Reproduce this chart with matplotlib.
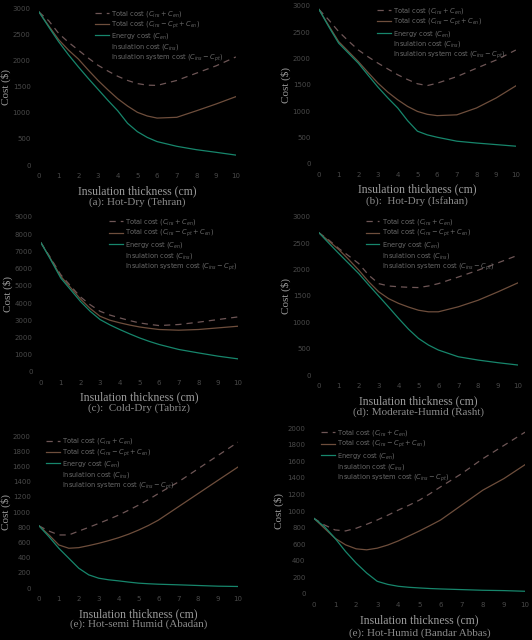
import numpy as np
import matplotlib.pyplot as plt
from matplotlib.lines import Line2D

# insulation thickness (cm)
thick = [0, 0.5, 1, 1.5, 2, 2.5, 3, 3.5, 4, 4.5, 5, 5.5, 6, 7, 8, 9, 10]

# (a) Tehran
a_total = [2930, 2760, 2520, 2350, 2200, 2050, 1910, 1800, 1700, 1620, 1560, 1530, 1525, 1620, 1760, 1900, 2070]
a_total_pt = [2930, 2660, 2400, 2200, 2030, 1820, 1620, 1440, 1270, 1130, 1010, 940, 900, 915, 1040, 1170, 1310]
a_energy = [2930, 2640, 2360, 2110, 1880, 1660, 1450, 1240, 1040, 800, 640, 530, 450, 360, 295, 245, 192]

# (b) Isfahan
b_total = [2930, 2730, 2510, 2330, 2160, 2030, 1910, 1800, 1690, 1600, 1520, 1485, 1530, 1655, 1815, 1970, 2160]
b_total_pt = [2930, 2620, 2320, 2130, 1940, 1730, 1530, 1360, 1215, 1090, 995, 940, 915, 930, 1060, 1250, 1480]
b_energy = [2930, 2600, 2290, 2100, 1910, 1680, 1455, 1250, 1060, 820, 620, 550, 505, 430, 395, 365, 335]

# (c) Tabriz
c_total = [7500, 6600, 5650, 5000, 4360, 3900, 3520, 3300, 3135, 2980, 2845, 2760, 2690, 2750, 2885, 3040, 3190]
c_total_pt = [7500, 6550, 5560, 4900, 4240, 3680, 3230, 3000, 2850, 2720, 2610, 2530, 2460, 2420, 2460, 2555, 2650]
c_energy = [7500, 6500, 5460, 4780, 4100, 3520, 3040, 2730, 2460, 2210, 1975, 1770, 1590, 1300, 1100, 910, 755]

# (d) Rasht
d_total = [2700, 2560, 2400, 2260, 2115, 1895, 1735, 1690, 1675, 1665, 1660, 1690, 1735, 1860, 1990, 2130, 2275]
d_total_pt = [2700, 2540, 2380, 2190, 1990, 1770, 1580, 1450, 1360, 1290, 1230, 1200, 1200, 1295, 1420, 1580, 1750]
d_energy = [2700, 2500, 2305, 2115, 1925, 1710, 1500, 1290, 1075, 870, 695, 570, 475, 347, 284, 234, 190]

# (e) Abadan
e_total = [820, 751, 700, 700, 751, 800, 852, 905, 961, 1025, 1092, 1165, 1245, 1397, 1572, 1747, 1921]
e_total_pt = [820, 700, 568, 525, 533, 560, 590, 625, 664, 710, 764, 825, 895, 1070, 1245, 1420, 1594]
e_energy = [820, 677, 524, 393, 262, 175, 131, 110, 96, 80, 66, 58, 52, 44, 35, 26, 22]

# (f) Bandar Abbas
f_total = [912, 832, 772, 760, 792, 840, 892, 950, 1012, 1070, 1132, 1210, 1292, 1452, 1632, 1792, 1952]
f_total_pt = [912, 792, 672, 592, 544, 532, 552, 590, 640, 700, 760, 825, 892, 1072, 1252, 1392, 1560]
f_energy = [912, 812, 672, 512, 372, 252, 152, 115, 92, 80, 72, 65, 60, 52, 44, 40, 32]

captions = ['(a): Hot-Dry (Tehran)', '(b):  Hot-Dry (Isfahan)', '(c):  Cold-Dry (Tabriz)',
            '(d): Moderate-Humid (Rasht)', '(e): Hot-semi Humid (Abadan)',
            '(e): Hot-Humid (Bandar Abbas)']

panels = [
    (a_total, a_total_pt, a_energy, 3000, 500, [0.0733, 0.742, 0.370, 0.245], 0.27),
    (b_total, b_total_pt, b_energy, 3000, 500, [0.5996, 0.744, 0.370, 0.247], 0.28),
    (c_total, c_total_pt, c_energy, 9000, 1000, [0.077, 0.419, 0.370, 0.242], 0.33),
    (d_total, d_total_pt, d_energy, 3000, 500, [0.5996, 0.414, 0.374, 0.247], 0.22),
    (e_total, e_total_pt, e_energy, 2000, 200, [0.0733, 0.081, 0.374, 0.2375], 0.02),
    (f_total, f_total_pt, f_energy, 2000, 200, [0.590, 0.072, 0.397, 0.259], 0.02),
]

c_dash = '#6e5656'
c_brown = '#6e4e3c'
c_green = '#17866c'
c_tick = '#4a4a4a'
c_label = '#9a9a9a'

fig = plt.figure(figsize=(5.32, 6.4), dpi=100, facecolor='black')

for i, (tot, totpt, en, ymax, ystep, pos, lx) in enumerate(panels):
    ax = fig.add_axes(pos)
    ax.set_facecolor('black')
    l1, = ax.plot(thick, tot, '--', color=c_dash, lw=0.9, dashes=(5, 4))
    l2, = ax.plot(thick, totpt, '-', color=c_brown, lw=0.9)
    l3, = ax.plot(thick, en, '-', color=c_green, lw=0.9)
    # insulation cost lines are drawn in black in the original, only legend entries show
    l4 = Line2D([], [], color='black', lw=0.9)
    l5 = Line2D([], [], color='black', lw=0.9)
    ax.set_xlim(0, 10)
    ax.set_ylim(0, ymax)
    ax.set_xticks(range(0, 11))
    ax.set_yticks(np.arange(0, ymax + 1, ystep))
    ax.tick_params(length=0, labelsize=5, colors=c_tick, pad=6)
    for s in ax.spines.values():
        s.set_visible(False)
    ax.set_xlabel('Insulation thickness (cm)', family='Liberation Serif', fontsize=8.5,
                  color=c_label, labelpad=4)
    ax.set_ylabel('Cost ($)', family='Liberation Serif', fontsize=8, color=c_label)
    ax.yaxis.set_label_coords(-0.14, 0.5)
    ax.text(0.5, -0.235, captions[i], transform=ax.transAxes, ha='center', va='center',
            family='Liberation Serif', fontsize=8, color='#8a8a8a')
    leg = ax.legend([l1, l2, l3, l4, l5],
                    [r'Total cost $\left(C_{ins}+C_{en}\right)$',
                     r'Total cost $\left(C_{ins}-C_{pt}+C_{en}\right)$',
                     r'Energy cost $\left(C_{en}\right)$',
                     r'Insulation cost $\left(C_{ins}\right)$',
                     r'Insulation system cost $\left(C_{ins}-C_{pt}\right)$'],
                    loc='upper left', bbox_to_anchor=(lx, 1.02), frameon=False,
                    fontsize=4.8, handlelength=2.0, handletextpad=0.4, labelspacing=0.1,
                    borderpad=0)
    for t in leg.get_texts():
        t.set_color('#6a6a6a')

fig.savefig('out.png', dpi=100, facecolor='black')
